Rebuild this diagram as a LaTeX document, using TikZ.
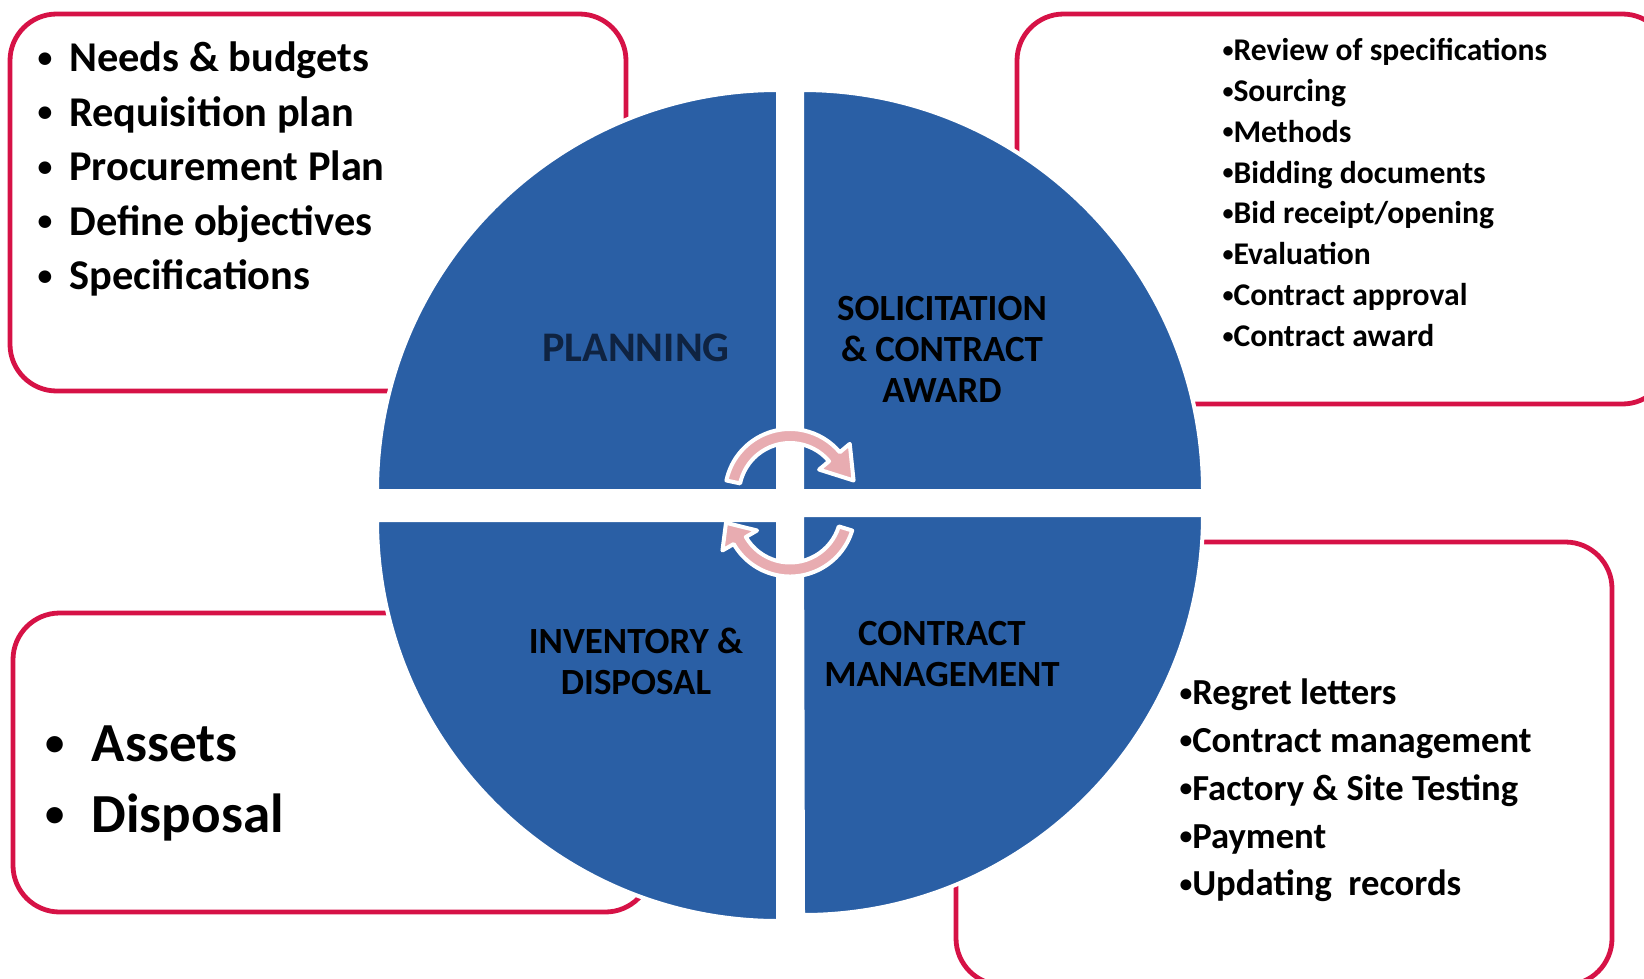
\documentclass[tikz,border=0pt]{standalone}
\usepackage{graphicx}
\usepackage{fontspec}
\setmainfont{Carlito}

\definecolor{wheelblue}{RGB}{42,95,165}
\definecolor{boxred}{RGB}{214,18,70}
\definecolor{arrowpink}{RGB}{232,172,177}
\definecolor{navytext}{RGB}{15,35,65}

\newcommand{\dotmark}{\raisebox{0.1em}{\scalebox{0.7}{\textbullet}}}
\newcommand{\itembullet}[1]{\makebox[#1][l]{\dotmark}}

\tikzset{every picture/.style={line width=0.75pt}}
\tikzset{
  listbox/.style={draw=boxred, line width=3.6pt, rounded corners=35pt},
  quarter/.style={fill=wheelblue, draw=white, line width=3pt},
  cyclearrow/.style={fill=arrowpink, draw=white, line width=3pt, line join=round},
  phase/.style={font=\bfseries\fontsize{27.7}{30.75}\selectfont, align=center, text=black, inner sep=0pt},
  itemlist/.style={align=left, anchor=west, inner sep=0pt},
}

\begin{document}
\begin{tikzpicture}[x=0.75pt,y=0.75pt,yscale=-1,xscale=1]

\useasboundingbox (0,0) rectangle (1644,978);
\clip (0,0) rectangle (1644,978);

\draw  [listbox] (10,14) rectangle (626,391) ;
\draw  [listbox] (1017,14) rectangle (1669,404) ;
\draw  [listbox] (956,542) rectangle (1612,985) ;
\draw  [listbox] (13,613) rectangle (652,912) ;

\draw  [quarter] (778,491) -- (377,491) arc[start angle=180, end angle=270, radius=401] -- cycle ;
\draw  [quarter] (802,491) -- (802,90) arc[start angle=270, end angle=360, radius=401] -- cycle ;
\draw  [quarter] (802,515) -- (1203,515) arc[start angle=0, end angle=90, radius=400] -- cycle ;
\draw  [quarter] (778,520) -- (778,921) arc[start angle=90, end angle=180, radius=401] -- cycle ;

\begin{scope}[shift={(790,494)}]
\draw  [cyclearrow] (192:65) arc[start angle=192, end angle=320, radius=65] -- (320:78) -- (348:65) -- (320:38) -- (320:51) arc[start angle=320, end angle=192, radius=51] -- cycle ;
\end{scope}
\begin{scope}[shift={(790,511.5)}]
\draw  [cyclearrow] (17:65) arc[start angle=17, end angle=150, radius=65] -- (150:78) -- (170:65) -- (150:38) -- (150:51) arc[start angle=150, end angle=17, radius=51] -- cycle ;
\end{scope}

\draw (636,348) node (planning) [phase, text=navytext, font=\bfseries\fontsize{31.6}{36}\selectfont] {PLANNING};
\draw (942,349) node (solicitation) [phase] {SOLICITATION\\\& CONTRACT\\AWARD};
\draw (636,661) node (inventory) [phase] {INVENTORY \&\\DISPOSAL};
\draw (942,654.5) node (management) [phase] {CONTRACT\\MANAGEMENT};

\draw (37,169) node (planitems) [itemlist, font=\bfseries\fontsize{31.8}{40.9}\selectfont] {\itembullet{0.75em}Needs \& budgets\\\itembullet{0.75em}Requisition plan\\\itembullet{0.75em}Procurement Plan\\\itembullet{0.75em}Define objectives\\\itembullet{0.75em}Specifications};
\draw (1222,192.5) node (solicititems) [itemlist, font=\bfseries\fontsize{23.7}{30.7}\selectfont] {\dotmark Review of specifications\\\dotmark Sourcing\\\dotmark Methods\\\dotmark Bidding documents\\\dotmark Bid receipt/opening\\\dotmark Evaluation\\\dotmark Contract approval\\\dotmark Contract award};
\draw (1179,790.5) node (manageitems) [itemlist, font=\bfseries\fontsize{27.5}{35.8}\selectfont] {\dotmark Regret letters\\\dotmark Contract management\\\dotmark Factory \& Site Testing\\\dotmark Payment\\\dotmark Updating~ records};
\draw (45,783) node (disposalitems) [itemlist, font=\bfseries\fontsize{41.3}{53.3}\selectfont] {\itembullet{0.84em}Assets\\\itembullet{0.84em}Disposal};

\end{tikzpicture}
\end{document}
